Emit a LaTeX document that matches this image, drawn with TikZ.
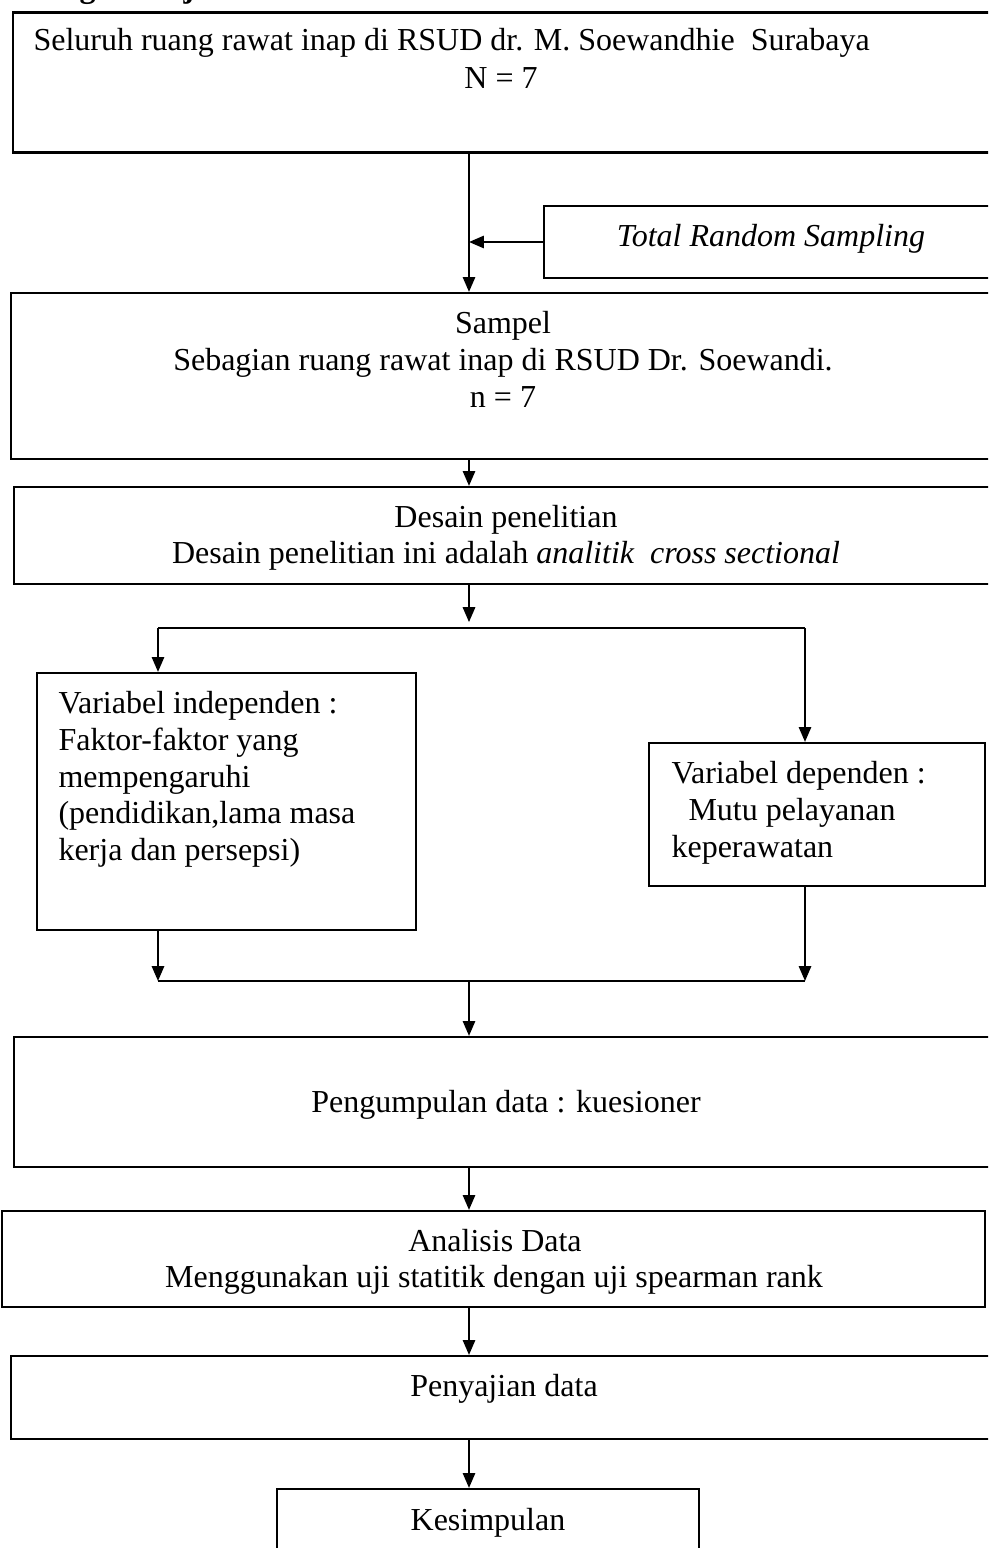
\documentclass[tikz,border=0pt]{standalone}
\usepackage{fontspec}
\setmainfont{Liberation Serif}
\usetikzlibrary{arrows.meta,fit}
\begin{document}
\begin{tikzpicture}[x=0.375pt,y=-0.375pt,
  box/.style={draw, line width=0.8pt, inner sep=0pt},
  txt/.style={inner sep=0pt, font=\fontsize{12}{13.8}\selectfont},
  arr/.style={line width=0.8pt, -{Triangle[length=5.6pt,width=4.6pt]}},
  ln/.style={line width=0.8pt}]
\useasboundingbox (0,0) rectangle (988,1548);
\clip (0,0) rectangle (988,1548);

% clipped heading
\node[txt, anchor=base west, font=\fontsize{12}{13.8}\selectfont\bfseries] (head) at (-8,-2) {Kerangka kerja};

% helper columns
\coordinate (spine) at (469,0);
\coordinate (lx) at (158,0);
\coordinate (rx) at (805,0);
\coordinate (split) at (469,628);
\coordinate (join) at (469,981);

% boxes
\node[box, fit={(13,12.5) (1000,152.5)}] (b1) {};
\node[box, fit={(544,206) (1000,278)}] (trs) {};
\node[box, fit={(11,293) (1000,459)}] (b2) {};
\node[box, fit={(14,487) (1000,584)}] (b3) {};
\node[box, fit={(37,673) (416,930)}] (vi) {};
\node[box, fit={(649,743) (985,886)}] (vd) {};
\node[box, fit={(14,1037) (1000,1167)}] (b5) {};
\node[box, fit={(2,1211) (985,1307)}] (b6) {};
\node[box, fit={(11,1356) (1000,1439)}] (b7) {};
\node[box, fit={(277,1489) (699,1570)}] (b8) {};

% texts
\node[txt, anchor=base west] (t1a) at (33,51) {Seluruh ruang rawat inap di RSUD dr. M. Soewandhie~ Surabaya};
\node[txt, anchor=base] (t1b) at (501,89) {N = 7};
\node[txt, anchor=base] (ttrs) at (771,246) {\itshape Total Random Sampling};
\node[txt, anchor=base] (t2a) at (503,333) {Sampel};
\node[txt, anchor=base] (t2b) at (503,370) {Sebagian ruang rawat inap di RSUD Dr. Soewandi.};
\node[txt, anchor=base] (t2c) at (503,407) {n = 7};
\node[txt, anchor=base] (t3a) at (506,527) {Desain penelitian};
\node[txt, anchor=base] (t3b) at (506,563) {Desain penelitian ini adalah \textit{analitik~ cross sectional}};
\node[txt, anchor=base west] (vi1) at (58,713) {Variabel independen :};
\node[txt, anchor=base west] (vi2) at (58,750) {Faktor-faktor yang};
\node[txt, anchor=base west] (vi3) at (58,787) {mempengaruhi};
\node[txt, anchor=base west] (vi4) at (58,823) {(pendidikan,lama masa};
\node[txt, anchor=base west] (vi5) at (58,860) {kerja dan persepsi)};
\node[txt, anchor=base west] (vd1) at (671,783) {Variabel dependen :};
\node[txt, anchor=base west] (vd2) at (688,820) {Mutu pelayanan};
\node[txt, anchor=base west] (vd3) at (671,857) {keperawatan};
\node[txt, anchor=base] (t5) at (506,1112) {Pengumpulan data : kuesioner};
\node[txt, anchor=base] (t6a) at (495,1251) {Analisis Data};
\node[txt, anchor=base] (t6b) at (494,1287) {Menggunakan uji statitik dengan uji spearman rank};
\node[txt, anchor=base] (t7) at (504,1396) {Penyajian data};
\node[txt, anchor=base] (t8) at (488,1530) {Kesimpulan};

% connectors
\draw[arr] (b1.south -| spine) -- (b2.north -| spine);
\draw[arr] (trs.west) -- (trs.west -| spine);
\draw[arr] (b2.south -| spine) -- (b3.north -| spine);
\draw[arr, shorten >=2.2pt] (b3.south -| spine) -- (split);
\draw[ln] (lx |- split) -- (rx |- split);
\draw[arr] (lx |- split) -- (lx |- vi.north);
\draw[arr] (rx |- split) -- (rx |- vd.north);
\draw[arr] (lx |- vi.south) -- (lx |- join);
\draw[arr] (rx |- vd.south) -- (rx |- join);
\draw[ln] (lx |- join) -- (rx |- join);
\draw[arr] (join) -- (b5.north -| spine);
\draw[arr] (b5.south -| spine) -- (b6.north -| spine);
\draw[arr] (b6.south -| spine) -- (b7.north -| spine);
\draw[arr] (b7.south -| spine) -- (b8.north -| spine);
\end{tikzpicture}
\end{document}
